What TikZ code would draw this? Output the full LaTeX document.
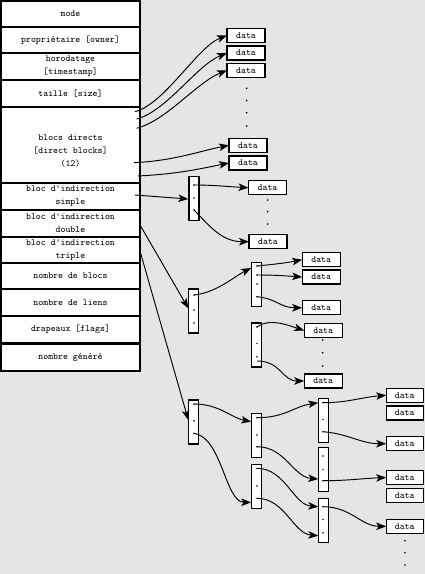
\documentclass[tikz,border=0pt]{standalone}
\usetikzlibrary{arrows.meta}
\definecolor{bg}{RGB}{229,229,229}
\newcommand{\dgfont}{\fontsize{9.4}{13}\selectfont\ttfamily}
\begin{document}
\begin{tikzpicture}[x=1pt,y=-1pt,
  cell/.style={draw=black, line width=1.2pt, fill=white, minimum width=139pt, inner sep=0pt, outer sep=0pt, align=center, font=\dgfont},
  databox/.style={draw=black, line width=1.1pt, fill=white, minimum width=38pt, minimum height=14pt, inner sep=0pt, outer sep=0pt, font=\dgfont},
  ptrblock/.style={draw=black, line width=1.1pt, fill=white, minimum width=10pt, minimum height=44pt, inner sep=0pt, outer sep=0pt},
  link/.style={line width=0.95pt, -{Stealth[length=10pt,width=7.5pt,inset=2.5pt]}},
  pdot/.style={circle, fill=black, inner sep=0pt, minimum size=1.6pt},
  edot/.style={circle, fill=black, inner sep=0pt, minimum size=1.9pt}]
\path[fill=bg, use as bounding box] (0,0) rectangle (425,574);

% inode table
\node[cell, minimum height=26pt] (c1) at (70.5,14) {mode};
\node[cell, minimum height=26pt] (c2) at (70.5,40) {propriétaire [owner]};
\node[cell, minimum height=27pt] (c3) at (70.5,66.5) {horodatage\\{[timestamp]}};
\node[cell, minimum height=27pt] (c4) at (70.5,93.5) {taille [size]};
\node[cell, minimum height=76pt] (c5) at (70.5,145) {};
\node[font=\dgfont, align=center, inner sep=0pt] (t5) at (70.5,151) {blocs directs\\{[direct blocks]}\\(12)};
\node[cell, minimum height=27pt] (c6) at (70.5,196.5) {bloc d'indirection\\simple};
\node[cell, minimum height=27pt] (c7) at (70.5,223.5) {bloc d'indirection\\double};
\node[cell, minimum height=26pt] (c8) at (70.5,250) {bloc d'indirection\\triple};
\node[cell, minimum height=26pt] (c9) at (70.5,276) {nombre de blocs};
\node[cell, minimum height=27pt] (c10) at (70.5,302.5) {nombre de liens};
\node[cell, minimum height=26.5pt] (c11) at (70.5,329.25) {drapeaux [flags]};
\node[cell, minimum height=27pt] (c12) at (70.5,357.5) {nombre généré};

% direct data blocks
\node[databox] (d1) at (246,35.3) {data};
\node[databox] (d2) at (246,53) {data};
\node[databox] (d3) at (246,70.3) {data};
\node[databox] (d4) at (248,145.3) {data};
\node[databox] (d5) at (248,163) {data};
\foreach \yy [count=\i] in {88.3,100.5,112.7,126} \node[edot] (ea\i) at (246.7,\yy) {};

% simple indirection
\node[ptrblock] (b1) at (194,198.7) {};
\node[pdot] (b1a) at (194,185) {};
\node[pdot] (b1b) at (194,198) {};
\node[pdot] (b1c) at (194,210) {};
\node[databox] (d6) at (267.5,187.7) {data};
\node[databox] (d7) at (268,241.7) {data};
\foreach \yy [count=\i] in {200,211.7,224} \node[edot] (eb\i) at (267.7,\yy) {};

% double indirection
\node[ptrblock] (b2) at (193.7,311) {};
\node[pdot] (b2a) at (194,295) {};
\node[pdot] (b2b) at (194,310) {};
\node[pdot] (b2c) at (194,323) {};
\node[ptrblock] (b3) at (256.7,284.5) {};
\node[pdot] (b3a) at (257,266) {};
\node[pdot] (b3b) at (257,275) {};
\node[pdot] (b3c) at (257,284) {};
\node[pdot] (b3d) at (257,296.7) {};
\node[ptrblock] (b4) at (256.8,345) {};
\node[pdot] (b4a) at (257,327) {};
\node[pdot] (b4b) at (257,343.3) {};
\node[pdot] (b4c) at (257,356.7) {};
\node[databox] (da) at (321.2,259.7) {data};
\node[databox] (db) at (321.2,277) {data};
\node[databox] (dc) at (321.2,307.8) {data};
\node[databox] (dd) at (323.2,330.5) {data};
\node[databox] (de) at (323.2,381) {data};
\foreach \yy [count=\i] in {340,352.7,366} \node[edot] (ec\i) at (322.7,\yy) {};

% triple indirection
\node[ptrblock] (b5) at (193.8,422) {};
\node[pdot] (b5a) at (194,404) {};
\node[pdot] (b5b) at (194,420.7) {};
\node[pdot] (b5c) at (194,433.3) {};
\node[ptrblock] (b6) at (256.7,435.3) {};
\node[pdot] (b6a) at (257,417.7) {};
\node[pdot] (b6b) at (257,435) {};
\node[pdot] (b6c) at (257,446.7) {};
\node[ptrblock] (b7) at (256.7,486.7) {};
\node[pdot] (b7a) at (257,468.3) {};
\node[pdot] (b7b) at (257,486) {};
\node[pdot] (b7c) at (257,498.3) {};
\node[ptrblock] (b8) at (323.3,420.7) {};
\node[pdot] (b8a) at (323,402.7) {};
\node[pdot] (b8b) at (323,419.3) {};
\node[pdot] (b8c) at (323,431.7) {};
\node[ptrblock] (b9) at (323.3,469.7) {};
\node[pdot] (b9a) at (323,456) {};
\node[pdot] (b9b) at (323,469.3) {};
\node[pdot] (b9c) at (323,480.7) {};
\node[ptrblock] (b10) at (323.3,520.7) {};
\node[pdot] (b10a) at (323,506.7) {};
\node[pdot] (b10b) at (323,519.3) {};
\node[pdot] (b10c) at (323,532.7) {};
\node[databox, minimum width=37pt] (df) at (404.7,395.3) {data};
\node[databox, minimum width=37pt] (dg) at (404.7,413) {data};
\node[databox, minimum width=37pt] (dh) at (404.7,443.7) {data};
\node[databox, minimum width=37pt] (di) at (404.7,477.5) {data};
\node[databox, minimum width=37pt] (dj) at (404.7,495.3) {data};
\node[databox, minimum width=37pt] (dk) at (404.7,526.3) {data};
\foreach \yy [count=\i] in {540.7,552.7,565} \node[edot] (ed\i) at (405,\yy) {};

% connector start/end coordinates
\coordinate (s1) at (135,111.7);
\coordinate (s2) at (136.7,119);
\coordinate (s3) at (136.7,128.3);
\coordinate (s4) at (134,162.7);
\coordinate (s5) at (137.7,176);
\coordinate (s6) at (135,195);
\coordinate (s7) at (140,225);
\coordinate (s8) at (140,251);
\coordinate (t1) at (188.3,199);
\coordinate (t2) at (188.3,308.3);
\coordinate (t3) at (188.3,420);
\coordinate (t4) at (251.2,268);
\coordinate (t5) at (251.2,421.7);
\coordinate (t6) at (251.2,502.3);
\coordinate (t7) at (318.3,402.7);
\coordinate (t8) at (318.3,479);
\coordinate (t9) at (318.3,506.7);
\coordinate (t10) at (318.3,535.7);

% direct links
\draw[link] (s1) .. controls +(30,-8) and +(-30,12) .. (d1.west);
\draw[link] (s2) .. controls +(30,-8) and +(-30,12) .. (d2.west);
\draw[link] (s3) .. controls +(30,-8) and +(-30,12) .. (d3.west);
\draw[link] (s4) .. controls +(40,-2) and +(-30,6) .. (d4.west);
\draw[link] (s5) .. controls +(40,-2) and +(-30,6) .. (d5.west);

% indirection links
\draw[link] (s6) -- (t1);
\draw[link] (s7) -- (t2);
\draw[link] (s8) -- (t3);

\draw[link] (b1a.center) .. controls +(20,0) and +(-20,-1) .. (d6.west);
\draw[link] (b1c.center) .. controls +(14,14) and +(-28,0) .. (d7.west);

\draw[link] (b2a.center) .. controls +(22,-2) and +(-16,8) .. (t4);
\draw[link] (b3a.center) .. controls +(20,-2) and +(-15,3) .. (da.west);
\draw[link] (b3b.center) .. controls +(20,0) and +(-15,-1) .. (db.west);
\draw[link] (b3d.center) .. controls +(20,2) and +(-22,0) .. (dc.west);
\draw[link] (b4a.center) .. controls +(12,-9) and +(-18,-6) .. (dd.west);
\draw[link] (257,361) .. controls +(24,0) and +(-22,0) .. (de.west);

\draw[link] (b5a.center) .. controls +(25,0) and +(-20,-4) .. (t5);
\draw[link] (b5c.center) .. controls +(28,4) and +(-26,0) .. (t6);
\draw[link] (b6a.center) .. controls +(28,0) and +(-25,4) .. (t7);
\draw[link] (b6c.center) .. controls +(28,0) and +(-25,-2) .. (t8);
\draw[link] (b7a.center) .. controls +(28,0) and +(-25,-2) .. (t9);
\draw[link] (b7c.center) .. controls +(28,0) and +(-25,-2) .. (t10);

\draw[link] (b8a.center) .. controls +(25,0) and +(-25,2) .. (df.west);
\draw[link] (b8c.center) .. controls +(25,2) and +(-25,0) .. (dh.west);
\draw[link] (b9c.center) .. controls +(25,0) and +(-25,1) .. (di.west);
\draw[link] (b10a.center) .. controls +(28,0) and +(-25,0) .. (dk.west);
\end{tikzpicture}
\end{document}
